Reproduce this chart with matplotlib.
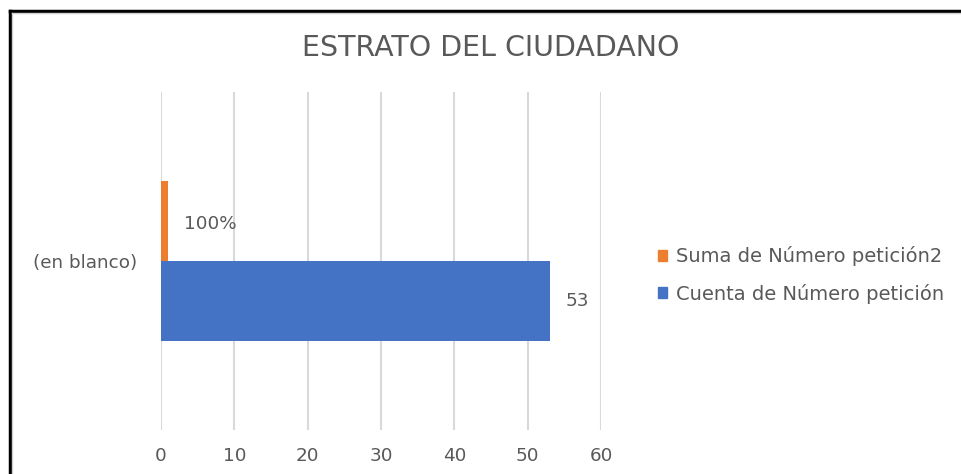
import matplotlib
matplotlib.use("Agg")
import matplotlib.pyplot as plt
from matplotlib.patches import Patch
from matplotlib.lines import Line2D

categories = ["(en blanco)"]
series_names = ["Suma de Número petición2", "Cuenta de Número petición"]
suma_values = [1]
cuenta_values = [53]
suma_labels = ["100%"]
cuenta_labels = ["53"]
x_ticks = [0, 10, 20, 30, 40, 50, 60]

plt.rcParams['font.family'] = ['DejaVu Sans']

W, H = 961, 474
fig = plt.figure(figsize=(W / 100, H / 100), dpi=100)
fig.patch.set_facecolor("white")

ax = fig.add_axes([161 / W, (H - 430) / H, (601 - 161) / W, (430 - 92) / H])

text_col = "#595959"
orange = "#ED7D31"
blue = "#4472C4"
h = 0.5
fs = 13.2

ax.barh([h / 2], suma_values, height=h, color=orange, zorder=3)
ax.barh([-h / 2], cuenta_values, height=h, color=blue, zorder=3)

ax.text(suma_values[0] + 2.1, h / 2 - 0.02, suma_labels[0], va="center", ha="left",
        color=text_col, fontsize=fs)
ax.text(cuenta_values[0] + 2.2, -h / 2, cuenta_labels[0], va="center", ha="left",
        color=text_col, fontsize=fs)

ax.set_xlim(0, 60)
ax.set_ylim(-1.056, 1.056)
ax.set_xticks(x_ticks)
ax.set_xticklabels([str(t) for t in x_ticks], color=text_col, fontsize=fs)
ax.set_yticks([0])
ax.set_yticklabels(categories, color=text_col, fontsize=fs)
ax.tick_params(axis="both", length=0)
ax.tick_params(axis="x", pad=12)
ax.tick_params(axis="y", pad=17)
ax.grid(axis="x", color="#d9d9d9", linewidth=1.5, zorder=0)
for s in ax.spines.values():
    s.set_visible(False)

fig.text(491 / W, 1 - 48 / H, "ESTRATO DEL CIUDADANO", ha="center", va="center",
         color=text_col, fontsize=20.5)

handles = [Patch(color=orange), Patch(color=blue)]
fig.legend(handles, series_names, loc="center left",
           bbox_to_anchor=(640 / W, 1 - 275 / H), frameon=False,
           fontsize=14, labelcolor=text_col, handlelength=0.5, handleheight=0.5,
           handletextpad=0.45, labelspacing=0.9)

# outer border
fig.add_artist(Line2D([9.5 / W, 9.5 / W], [0, 1 - 11 / H], color="black", linewidth=2.5,
                      transform=fig.transFigure))
fig.add_artist(Line2D([9.5 / W, 1], [1 - 11 / H, 1 - 11 / H], color="black", linewidth=2.5,
                      transform=fig.transFigure))
fig.add_artist(Line2D([12 / W, 12 / W], [0, 1 - 13 / H], color="#d0d0d0", linewidth=1,
                      transform=fig.transFigure))
fig.add_artist(Line2D([12 / W, 1], [1 - 13 / H, 1 - 13 / H], color="#d0d0d0", linewidth=1,
                      transform=fig.transFigure))

fig.savefig("out.png", dpi=100)
